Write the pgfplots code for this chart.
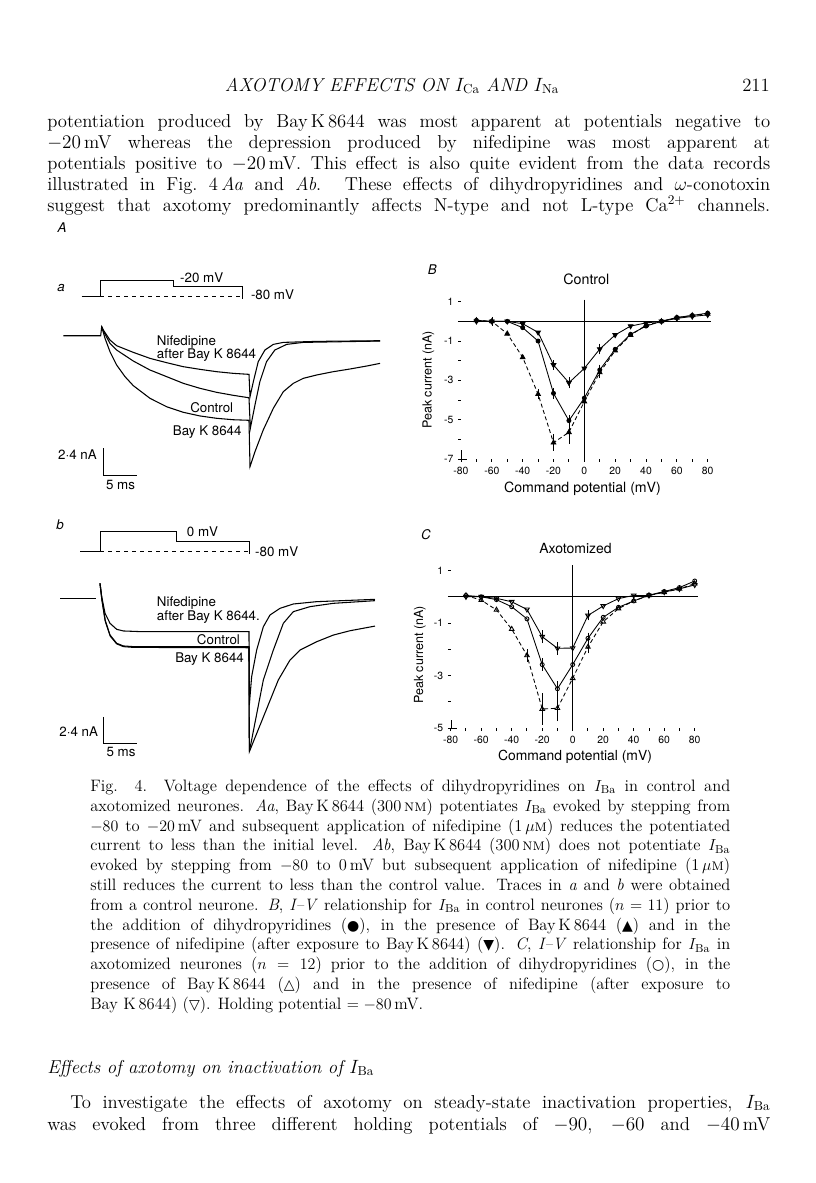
\documentclass[border=0pt]{standalone}
\usepackage{fontspec}
\usepackage{pgfplots}
\pgfplotsset{compat=1.18}
\setsansfont{TeX Gyre Heros}
\newfontfamily\symfont{DejaVu Sans}
\newcommand{\sym}[1]{{\symfont\fontsize{10.5}{12}\selectfont #1}}

% one justified line of body text / caption, baseline at page pixel y
\newcommand\bl[2]{\node[anchor=base west, inner sep=0pt, font=\fontsize{14}{16}\selectfont] at (47,-#1) {\makebox[542.25pt][s]{#2}};}
\newcommand\cl[2]{\node[anchor=base west, inner sep=0pt, font=\fontsize{12.4}{14}\selectfont] at (90,-#1) {\makebox[480pt][s]{#2}};}

\pgfplotsset{
  ivaxis/.style={scale only axis, anchor=south west, clip=false,
    xmin=-80, xmax=80,
    axis lines*=left, axis line style={draw=none},
    xtick={-80,-60,...,80}, xticklabels={-80,-60,-40,-20,0,20,40,60,80},
    minor xtick={-70,-50,...,70},
    tick style={black, line width=0.7pt}, major tick length=2.2pt, minor tick length=2.2pt,
    tick align=outside,
    tick label style={font=\sffamily\fontsize{7.8}{8}\selectfont},
  },
  ctl/.style={black, line width=0.65pt, mark=*, mark size=1.5pt},
  bay/.style={black, line width=0.65pt, densely dashed, mark=triangle*, mark size=2pt, mark options={solid}},
  nif/.style={black, line width=0.65pt, mark=triangle*, mark size=2pt, mark options={rotate=180}},
  ebar/.style={draw=none, mark=none, forget plot,
    error bars/.cd, y dir=both, y explicit,
    error bar style={draw=black, solid, line width=0.5pt},
    error mark options={draw=black, solid, mark size=1.8pt, line width=0.5pt}},
  trace/.style={black, line width=0.8pt},
  schem/.style={black, line width=0.6pt},
}

\begin{document}
\begin{tikzpicture}[x=0.75pt, y=0.75pt]
\path[fill=white] (0,0) rectangle (816,-1183);

% ---------- running head and text above the figure
\node[anchor=base, inner sep=0pt, font=\fontsize{14}{16}\selectfont\itshape] at (392,-91)
  {AXOTOMY EFFECTS ON $I_{\mathrm{Ca}}$ AND $I_{\mathrm{Na}}$};
\node[anchor=base east, inner sep=0pt, font=\fontsize{14}{16}\selectfont] at (770,-91) {211};
\bl{127}{potentiation produced by Bay\,K\,8644 was most apparent at potentials negative to}
\bl{148}{$-20$\,mV whereas the depression produced by nifedipine was most apparent at}
\bl{169}{potentials positive to $-20$\,mV. This effect is also quite evident from the data records}
\bl{190}{illustrated in Fig.~4\,\textit{Aa} and \textit{Ab}. These effects of dihydropyridines and $\omega$-conotoxin}
\bl{211}{suggest that axotomy predominantly affects N-type and not L-type Ca$^{2+}$ channels.}

% ---------- panel labels
\begin{scope}[every node/.style={font=\sffamily\fontsize{10}{12}\selectfont, inner sep=0pt}]
\node[font=\sffamily\itshape\fontsize{10}{12}\selectfont] at (62,-228) {A};
\node[font=\sffamily\itshape\fontsize{10}{12}\selectfont] at (61,-288) {a};
\node at (201.7,-277.7) {-20 mV};
\node at (272.5,-295) {-80 mV};
\node[anchor=west] at (156.7,-342.3) {Nifedipine};
\node[anchor=west] at (156.7,-355.5) {after Bay K 8644};
\node[anchor=west] at (190,-407.7) {Control};
\node[anchor=west] at (172.7,-431.7) {Bay K 8644};
\node[anchor=east] at (97,-455) {2·4 nA};
\node at (120.5,-485) {5 ms};
\node[font=\sffamily\itshape\fontsize{10}{12}\selectfont] at (60,-525) {b};
\node at (202.5,-531.7) {0 mV};
\node at (276.7,-551.7) {-80 mV};
\node[anchor=west] at (156.7,-603.3) {Nifedipine};
\node[anchor=west] at (156.7,-617.3) {after Bay K 8644.};
\node[anchor=west] at (196.7,-640) {Control};
\node[anchor=west] at (175,-659) {Bay K 8644};
\node[anchor=east] at (98.3,-731.7) {2·4 nA};
\node at (121,-751.7) {5 ms};
\node[font=\sffamily\itshape\fontsize{10}{12}\selectfont] at (432.3,-270) {B};
\node[font=\sffamily\fontsize{10.7}{12}\selectfont] at (586.3,-279) {Control};
\node[rotate=90, font=\sffamily\fontsize{9.4}{12}\selectfont] at (428.3,-380) {Peak current (nA)};
\node[font=\sffamily\fontsize{10.6}{12}\selectfont] at (582.5,-488.3) {Command potential (mV)};
\node[font=\sffamily\itshape\fontsize{10}{12}\selectfont] at (426,-535) {C};
\node[font=\sffamily\fontsize{10.5}{12}\selectfont] at (575.5,-548.3) {Axotomized};
\node[rotate=90, font=\sffamily\fontsize{9.4}{12}\selectfont] at (420,-655) {Peak current (nA)};
\node[font=\sffamily\fontsize{10.4}{12}\selectfont] at (575,-756.7) {Command potential (mV)};
\end{scope}

% ---------- Aa: protocol and currents (ms, nA)
\begin{axis}[at={(40.575pt,-360pt)}, anchor=south west, scale only axis, width=249.9pt, height=154pt,
  xmin=-7, xmax=42, ymin=-13, ymax=5.5, hide axis, clip=false]
\addplot[schem] coordinates {(-2.94,3.51) (-0.25,3.51) (-0.25,5.02) (10.53,5.02) (10.53,4.41) (20.68,4.41) (20.68,3.3)};
\addplot[schem, dashed] coordinates {(-0.25,3.51) (20.68,3.51)};
\addplot[schem] coordinates {(0.24,-10.14) (0.24,-12.54) (5.24,-12.54)};
% nifedipine after Bay K 8644
\addplot[trace] coordinates {(-5.65,0) (-0.15,0) (0,0.81) (0.24,0.51) (1.22,-0.39) (2.2,-0.9) (4.65,-1.5)
  (7.1,-2.04) (9.56,-2.43) (12.0,-2.79) (14.46,-3.03) (16.9,-3.24) (19.35,-3.39) (21.66,-3.48)
  (21.81,-5.5) (22.3,-4.14) (23.02,-2.34) (24.0,-1.29) (25.24,-0.78) (26.71,-0.6) (31.6,-0.51) (40.93,-0.45)};
% control
\addplot[trace] coordinates {(0,0.81) (0.24,0.42) (1.22,-0.69) (2.2,-1.29) (4.65,-2.28) (7.1,-3.09)
  (9.56,-3.69) (12.0,-4.29) (14.46,-4.74) (16.9,-5.1) (19.35,-5.37) (21.66,-5.59)
  (21.86,-8.34) (22.54,-6.24) (23.26,-4.14) (24.24,-2.34) (25.46,-1.29) (27.2,-0.78) (29.65,-0.6) (40.93,-0.48)};
% Bay K 8644
\addplot[trace] coordinates {(0,0.81) (0.49,-0.24) (1.22,-1.44) (2.2,-2.64) (3.43,-3.69) (4.65,-4.5)
  (7.1,-5.64) (9.56,-6.4) (12.0,-6.9) (14.46,-7.23) (16.9,-7.44) (19.35,-7.57) (21.66,-7.62)
  (21.81,-11.8) (22.54,-10.45) (23.75,-8.5) (25.24,-6.54) (26.71,-5.04) (28.18,-4.29) (29.65,-3.84)
  (31.6,-3.54) (34.06,-3.24) (36.5,-3.0) (38.97,-2.73) (40.93,-2.49)};
\end{axis}

% ---------- Ab
\begin{axis}[at={(39.3pt,-569.44pt)}, anchor=south west, scale only axis, width=249.9pt, height=174.8pt,
  xmin=-7, xmax=42, ymin=-14.5, ymax=6.5, hide axis, clip=false]
\addplot[schem] coordinates {(-2.94,4.2) (0,4.2) (0,6.0) (11.27,6.0) (11.27,5.1) (21.96,5.1) (21.96,4.0)};
\addplot[schem, dashed] coordinates {(0,4.2) (21.96,4.2)};
\addplot[schem] coordinates {(0.49,-10.67) (0.49,-13.07) (5.49,-13.07)};
\addplot[trace] coordinates {(-5.88,0) (-0.59,0)};
\addplot[trace] coordinates {(0,1.35) (0.25,0.15) (0.74,-1.35) (1.47,-2.25) (2.45,-2.79) (3.43,-2.94) (6,-3.0)
  (21.91,-3.0) (21.96,-9.61) (22.3,-7.06) (23.04,-4.66) (24.02,-2.56) (25.0,-1.5) (26.47,-0.9)
  (28.43,-0.51) (31.86,-0.3) (40.44,-0.09)};
\addplot[trace] coordinates {(0,1.35) (0.25,0) (0.74,-1.95) (1.47,-3.3) (2.45,-4.05) (3.43,-4.29) (4.9,-4.35)
  (21.91,-4.36) (21.96,-13.82) (24.02,-7.36) (25.49,-4.66) (26.96,-2.25) (28.43,-1.2) (30.88,-0.75)
  (34.31,-0.45) (40.44,-0.21)};
\addplot[trace] coordinates {(0,1.35) (0.3,-0.2) (0.8,-2.1) (1.5,-3.4) (2.45,-4.1) (3.43,-4.35) (4.9,-4.42)
  (21.91,-4.45) (21.96,-13.82) (26.22,-7.36) (27.94,-5.56) (29.41,-4.66) (31.86,-3.91) (34.31,-3.31)
  (36.76,-2.92) (40.44,-2.5)};
\end{axis}

% ---------- B: control neurones
\begin{axis}[ivaxis, at={(345.75pt,-344.25pt)}, width=185pt, height=123.9pt, ymin=-7, ymax=1.4,
  ytick={-7,-5,-3,-1,1}, yticklabels={-7,-5,-3,-1,1}, minor ytick={-6,-4,-2,0}]
\addplot[black, line width=0.6pt] coordinates {(-82,0) (82,0)};
\addplot[black, line width=0.6pt] coordinates {(0,1.1) (0,-7)};
\addplot[black, line width=0.6pt] coordinates {(-79.5,-6.55) (-79.5,-7) (-76,-7)};
\addplot[bay] coordinates {(-70,0.05) (-60,0) (-50,-0.63) (-40,-1.83) (-30,-3.7) (-20,-6.17) (-10,-5.64)
  (0,-4.08) (10,-2.6) (20,-1.49) (30,-0.7) (40,-0.2) (50,0) (60,0.18) (70,0.3) (80,0.38)};
\addplot[ctl] coordinates {(-70,0.05) (-60,0) (-50,0) (-40,-0.32) (-30,-1.0) (-20,-3.66) (-10,-5.05)
  (0,-3.9) (10,-2.47) (20,-1.42) (30,-0.66) (40,-0.24) (50,0) (60,0.2) (70,0.3) (80,0.42)};
\addplot[nif] coordinates {(-70,0) (-60,0) (-50,0) (-40,-0.12) (-30,-0.56) (-20,-2.22) (-10,-3.12)
  (0,-2.39) (10,-1.41) (20,-0.69) (30,-0.24) (40,-0.08) (50,0) (60,0.15) (70,0.25) (80,0.33)};
\addplot[ebar] coordinates {(-20,-3.66) +- (0,0.15) (-10,-5.05) +- (0,0.17) (0,-3.9) +- (0,0.35) (10,-2.47) +- (0,0.15)};
\addplot[ebar] coordinates {(-30,-3.7) +- (0,0.15) (-20,-6.17) +- (0,0.3) (-10,-5.64) +- (0,0.45) (0,-4.08) +- (0,0.5) (10,-2.6) +- (0,0.15)};
\addplot[ebar] coordinates {(-20,-2.22) +- (0,0.12) (-10,-3.12) +- (0,0.17) (0,-2.39) +- (0,0.3) (10,-1.41) +- (0,0.15) (-60,0) +- (0,0.1)};
\end{axis}

% ---------- C: axotomized neurones
\begin{axis}[ivaxis, at={(338.03pt,-546.15pt)}, width=183pt, height=126.2pt, ymin=-5, ymax=1.4,
  ytick={-5,-3,-1,1}, yticklabels={-5,-3,-1,1}, minor ytick={-4,-2,0}]
\addplot[black, line width=0.6pt] coordinates {(-80,0) (82,0)};
\addplot[black, line width=0.6pt] coordinates {(0,1.2) (0,-5)};
\addplot[black, line width=0.6pt] coordinates {(-79.5,-4.7) (-79.5,-5) (-76,-5)};
\addplot[bay, mark=triangle, mark options={solid, fill=white}] coordinates {(-70,0.05) (-60,-0.13) (-50,-0.5) (-40,-1.23) (-30,-2.23) (-20,-4.27) (-10,-4.24)
  (0,-3.1) (10,-1.91) (20,-0.95) (30,-0.45) (40,-0.16) (50,0.05) (60,0.17) (70,0.3) (80,0.5)};
\addplot[ctl, mark=o, mark options={fill=white}] coordinates {(-70,0.05) (-60,0) (-50,-0.11) (-40,-0.38) (-30,-0.84) (-20,-2.58) (-10,-3.5)
  (0,-2.58) (10,-1.58) (20,-0.78) (30,-0.4) (40,-0.16) (50,0.06) (60,0.2) (70,0.35) (80,0.6)};
\addplot[nif, mark=triangle, mark options={rotate=180, fill=white}] coordinates {(-70,0) (-60,0) (-50,-0.06) (-40,-0.19) (-30,-0.48) (-20,-1.52) (-10,-1.96)
  (0,-1.95) (10,-0.71) (20,-0.35) (30,-0.07) (40,0.05) (50,0.05) (60,0.18) (70,0.3) (80,0.45)};
\addplot[ebar] coordinates {(-20,-2.58) +- (0,0.15) (-10,-3.5) +- (0,0.2) (0,-2.58) +- (0,0.15) (10,-1.58) +- (0,0.12)};
\addplot[ebar] coordinates {(-30,-2.23) +- (0,0.15) (-20,-4.27) +- (0,0.5) (-10,-4.24) +- (0,0.4) (0,-3.1) +- (0,0.4) (10,-1.91) +- (0,0.15)};
\addplot[ebar] coordinates {(-20,-1.52) +- (0,0.15) (-10,-1.96) +- (0,0.15) (0,-1.95) +- (0,0.55) (10,-0.71) +- (0,0.1)};
\end{axis}

% ---------- legend (caption)
\cl{791.5}{Fig. 4. Voltage dependence of the effects of dihydropyridines on $I_{\mathrm{Ba}}$ in control and}
\cl{811.3}{axotomized neurones. \textit{Aa}, Bay\,K\,8644 (300\,\textsc{nm}) potentiates $I_{\mathrm{Ba}}$ evoked by stepping from}
\cl{831.1}{$-80$ to $-20$\,mV and subsequent application of nifedipine (1\,$\mu$\textsc{m}) reduces the potentiated}
\cl{850.9}{current to less than the initial level. \textit{Ab}, Bay\,K\,8644 (300\,\textsc{nm}) does not potentiate $I_{\mathrm{Ba}}$}
\cl{870.7}{evoked by stepping from $-80$ to 0\,mV but subsequent application of nifedipine (1\,$\mu$\textsc{m})}
\cl{890.5}{still reduces the current to less than the control value. Traces in \textit{a} and \textit{b} were obtained}
\cl{910.3}{from a control neurone. \textit{B}, \textit{I--V} relationship for $I_{\mathrm{Ba}}$ in control neurones ($n=11$) prior to}
\cl{930.1}{the addition of dihydropyridines (\sym{●}), in the presence of Bay\,K\,8644 (\sym{▲}) and in the}
\cl{949.9}{presence of nifedipine (after exposure to Bay\,K\,8644) (\sym{▼}). \textit{C}, \textit{I--V} relationship for $I_{\mathrm{Ba}}$ in}
\cl{969.7}{axotomized neurones ($n=12$) prior to the addition of dihydropyridines (\sym{○}), in the}
\cl{989.5}{presence of Bay\,K\,8644 (\sym{△}) and in the presence of nifedipine (after exposure to}
\node[anchor=base west, inner sep=0pt, font=\fontsize{12.4}{14}\selectfont] at (90,-1009.3)
  {Bay K\,8644) (\sym{▽}). Holding potential $=-80$\,mV.};

% ---------- following section
\node[anchor=base west, inner sep=0pt, font=\fontsize{14}{16}\selectfont\itshape] at (47,-1073)
  {Effects of axotomy on inactivation of $I_{\mathrm{Ba}}$};
\node[anchor=base west, inner sep=0pt, font=\fontsize{14}{16}\selectfont] at (70,-1108)
  {\makebox[525pt][s]{To investigate the effects of axotomy on steady-state inactivation properties, $I_{\mathrm{Ba}}$}};
\bl{1130}{was evoked from three different holding potentials of $-90$, $-60$ and $-40$\,mV}
\end{tikzpicture}
\end{document}
